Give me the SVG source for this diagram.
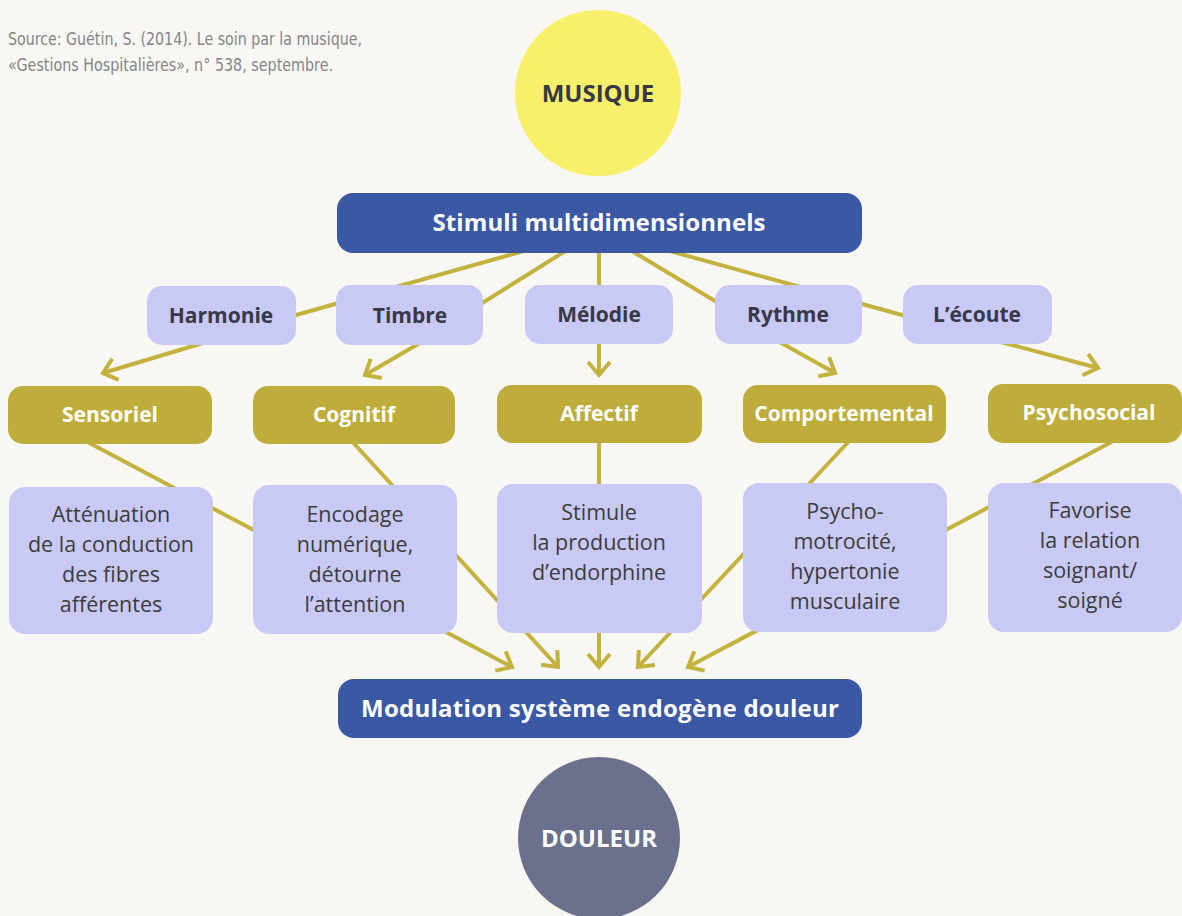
<svg xmlns="http://www.w3.org/2000/svg" width="1182" height="916" viewBox="0 0 1182 916">
<style>
.src{font-family:"Liberation Sans Narrow","DejaVu Sans Condensed","Liberation Sans",sans-serif;font-size:17px;fill:#858585}
.big{font-family:"Open Sans","Noto Sans",sans-serif;font-weight:700;font-size:24px;text-anchor:middle}
.lab{font-family:"Open Sans","Noto Sans",sans-serif;font-weight:700;font-size:21px;text-anchor:middle}
.body{font-family:"Open Sans","Noto Sans",sans-serif;font-size:21.5px;text-anchor:middle;fill:#3c3c3c}
.blue{fill:#3b58a5}
.lav{fill:#c9c9f6}
.olive{fill:#bead3a}
.dark{fill:#383846}
.white{fill:#ffffff}
.con{stroke:#c4b23f;stroke-width:4;fill:none}
</style>
<defs>
<marker id="ah" markerUnits="userSpaceOnUse" markerWidth="30" markerHeight="30" viewBox="-20 -15 25 30" refX="0" refY="0" orient="auto" overflow="visible">
<path d="M-13,-11 L0,0 L-13,11" fill="none" stroke="#c4b23f" stroke-width="4"/>
</marker>
</defs>
<rect x="0" y="0" width="1182" height="916" fill="#f8f7f3"/>
<g id="source">
<text class="src" x="8" y="45" textLength="354" lengthAdjust="spacingAndGlyphs">Source: Guétin, S. (2014). Le soin par la musique,</text>
<text class="src" x="8" y="71" textLength="325" lengthAdjust="spacingAndGlyphs">«Gestions Hospitalières», n° 538, septembre.</text>
</g>
<g id="connectors" class="con">
<line x1="545" y1="245" x2="280" y2="319.5"/>
<line x1="575" y1="245" x2="460" y2="317"/>
<line x1="599" y1="245" x2="599" y2="290"/>
<line x1="622" y1="245" x2="730" y2="310"/>
<line x1="648" y1="245" x2="920" y2="320"/>
<line x1="213" y1="340" x2="103" y2="373" marker-end="url(#ah)"/>
<line x1="425" y1="340" x2="365" y2="375" marker-end="url(#ah)"/>
<line x1="599" y1="340" x2="599" y2="375" marker-end="url(#ah)"/>
<line x1="776" y1="340" x2="835" y2="373" marker-end="url(#ah)"/>
<line x1="986" y1="338" x2="1098" y2="368" marker-end="url(#ah)"/>
<line x1="80" y1="438" x2="512" y2="667" marker-end="url(#ah)"/>
<line x1="349" y1="438" x2="558" y2="667" marker-end="url(#ah)"/>
<line x1="599" y1="438" x2="599" y2="667" marker-end="url(#ah)"/>
<line x1="852" y1="438" x2="638" y2="667" marker-end="url(#ah)"/>
<line x1="1119" y1="438" x2="688" y2="667" marker-end="url(#ah)"/>
</g>
<g id="musique">
<circle cx="598" cy="93" r="83" fill="#f8f06a"/>
<text class="big dark" x="598" y="102">MUSIQUE</text>
</g>
<g id="stimuli">
<rect class="blue" x="337" y="193" width="525" height="60" rx="16"/>
<text class="big white" x="599" y="231" textLength="333">Stimuli multidimensionnels</text>
</g>
<g id="harmonie"><rect class="lav" x="147" y="286" width="149" height="59" rx="15"/><text class="lab dark" x="221" y="323">Harmonie</text></g>
<g id="timbre"><rect class="lav" x="336" y="285" width="147" height="60" rx="15"/><text class="lab dark" x="410" y="323">Timbre</text></g>
<g id="melodie"><rect class="lav" x="525" y="285" width="148" height="59" rx="15"/><text class="lab dark" x="599" y="322">Mélodie</text></g>
<g id="rythme"><rect class="lav" x="715" y="285" width="147" height="59" rx="15"/><text class="lab dark" x="788" y="322">Rythme</text></g>
<g id="ecoute"><rect class="lav" x="903" y="285" width="149" height="59" rx="15"/><text class="lab dark" x="977" y="322">L’écoute</text></g>
<g id="sensoriel"><rect class="olive" x="8" y="386" width="204" height="58" rx="15"/><text class="lab white" x="110" y="422">Sensoriel</text></g>
<g id="cognitif"><rect class="olive" x="253" y="386" width="202" height="58" rx="15"/><text class="lab white" x="354" y="422">Cognitif</text></g>
<g id="affectif"><rect class="olive" x="497" y="385" width="205" height="58" rx="15"/><text class="lab white" x="599" y="421">Affectif</text></g>
<g id="comportemental"><rect class="olive" x="743" y="385" width="203" height="58" rx="15"/><text class="lab white" x="844" y="421">Comportemental</text></g>
<g id="psychosocial"><rect class="olive" x="988" y="384" width="194" height="59" rx="15"/><text class="lab white" x="1089" y="420">Psychosocial</text></g>
<g id="attenuation"><rect class="lav" x="9" y="487" width="204" height="147" rx="16"/>
<text class="body" x="111" y="522">Atténuation</text><text class="body" x="111" y="552">de la conduction</text><text class="body" x="111" y="582">des fibres</text><text class="body" x="111" y="612">afférentes</text></g>
<g id="encodage"><rect class="lav" x="253" y="485" width="204" height="149" rx="16"/>
<text class="body" x="355" y="522">Encodage</text><text class="body" x="355" y="552">numérique,</text><text class="body" x="355" y="582">détourne</text><text class="body" x="355" y="612">l’attention</text></g>
<g id="stimule"><rect class="lav" x="497" y="484" width="205" height="149" rx="16"/>
<text class="body" x="599" y="520">Stimule</text><text class="body" x="599" y="550">la production</text><text class="body" x="599" y="580">d’endorphine</text></g>
<g id="psychomotricite"><rect class="lav" x="743" y="483" width="204" height="149" rx="16"/>
<text class="body" x="845" y="519">Psycho-</text><text class="body" x="845" y="549">motrocité,</text><text class="body" x="845" y="579">hypertonie</text><text class="body" x="845" y="609">musculaire</text></g>
<g id="favorise"><rect class="lav" x="988" y="483" width="194" height="149" rx="16"/>
<text class="body" x="1090" y="518">Favorise</text><text class="body" x="1090" y="548">la relation</text><text class="body" x="1090" y="578">soignant/</text><text class="body" x="1090" y="608">soigné</text></g>
<g id="modulation">
<rect class="blue" x="338" y="679" width="524" height="59" rx="16"/>
<text class="big white" x="600" y="717" textLength="478">Modulation système endogène douleur</text>
</g>
<g id="douleur">
<circle cx="599" cy="838" r="81" fill="#6b708c"/>
<text class="big white" x="599" y="847">DOULEUR</text>
</g>
</svg>
